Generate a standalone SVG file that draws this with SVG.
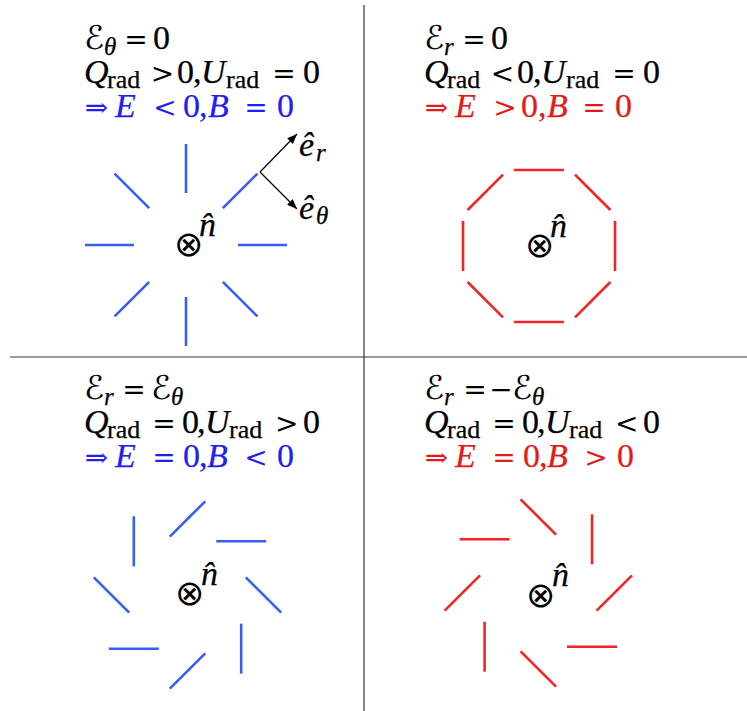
<svg xmlns="http://www.w3.org/2000/svg" width="747" height="711" viewBox="0 0 747 711">
<style>
.t{font-family:"Liberation Serif","DejaVu Serif",serif;font-size:34px;fill:#000;stroke:#000;stroke-width:0.25}
.it{font-style:italic}
.sub{font-size:25px}
.rad{font-size:26px}
.scr{font-family:"DejaVu Serif","DejaVu Sans","Noto Sans",serif;font-style:normal;font-size:33px;stroke-width:0}
.op{font-family:"DejaVu Serif","DejaVu Sans",serif;font-style:normal;font-size:28px;stroke-width:0;text-anchor:middle}
.blue{fill:#1f1ff2;stroke:#1f1ff2}
.red{fill:#e41a1a;stroke:#e41a1a}
.lb{stroke:#3a5ef0;stroke-width:2.6;fill:none}
.lr{stroke:#f42424;stroke-width:2.6;fill:none}
.div{stroke:#333;stroke-width:1.2}
.ot{font-family:"DejaVu Sans",sans-serif;font-size:35px;font-weight:200;fill:#000;text-anchor:middle}
.ax{stroke:#000;stroke-width:1.2;fill:none;marker-end:url(#ah)}
</style>
<defs>
<marker id="ah" viewBox="0 0 10 8" refX="10" refY="4" markerWidth="10" markerHeight="8" markerUnits="userSpaceOnUse" orient="auto"><path d="M0,0 L10,4 L0,8 z" fill="#000"/></marker>
</defs>
<rect width="747" height="711" fill="#fff"/>
<g id="dividers">
<line class="div" x1="364" y1="5" x2="364" y2="711"/>
<line class="div" x1="10" y1="357" x2="747" y2="357"/>
</g>

<g id="panel-tl">
<text class="t"><tspan class="scr" x="84" y="49">ℰ</tspan><tspan class="it sub" x="104" y="55">θ</tspan><tspan class="op" x="136" y="49">=</tspan><tspan x="153" y="49">0</tspan></text>
<text class="t"><tspan class="it" x="84" y="83">Q</tspan><tspan class="rad" x="107" y="88">rad</tspan><tspan class="op" x="162.5" y="83">&gt;</tspan><tspan x="177" y="83">0</tspan><tspan x="193" y="83">,</tspan><tspan class="it" x="201" y="83">U</tspan><tspan class="rad" x="226" y="88">rad</tspan><tspan class="op" x="284" y="83">=</tspan><tspan x="303" y="83">0</tspan></text>
<text class="t blue"><tspan class="op" x="96.5" y="117">⇒</tspan><tspan class="it" x="115" y="117">E</tspan><tspan class="op" x="165" y="117">&lt;</tspan><tspan x="183" y="117">0</tspan><tspan x="199" y="117">,</tspan><tspan class="it" x="208" y="117">B</tspan><tspan class="op" x="256" y="117">=</tspan><tspan x="277" y="117">0</tspan></text>
<g class="lb">
<line x1="186" y1="193" x2="186" y2="144"/>
<line x1="186" y1="297" x2="186" y2="346"/>
<line x1="134" y1="245" x2="85" y2="245"/>
<line x1="238" y1="245" x2="287" y2="245"/>
<line x1="149.2" y1="208.2" x2="114.6" y2="173.6"/>
<line x1="222.8" y1="208.2" x2="257.4" y2="173.6"/>
<line x1="149.2" y1="281.8" x2="114.6" y2="316.4"/>
<line x1="222.8" y1="281.8" x2="257.4" y2="316.4"/>
</g>
<text class="ot" x="188" y="256">⊗</text>
<text class="t it" x="199" y="236">n̂</text>
</g>

<g id="basis-vectors">
<line class="ax" x1="260" y1="172" x2="297" y2="134"/>
<line class="ax" x1="260" y1="172" x2="297" y2="209"/>
<text class="t it"><tspan x="299" y="156">ê</tspan><tspan class="sub" x="316" y="161">r</tspan></text>
<text class="t it"><tspan x="299" y="219">ê</tspan><tspan class="sub" x="316" y="224">θ</tspan></text>
</g>

<g id="panel-tr">
<text class="t"><tspan class="scr" x="424" y="49">ℰ</tspan><tspan class="it sub" x="444" y="55">r</tspan><tspan class="op" x="474" y="49">=</tspan><tspan x="491" y="49">0</tspan></text>
<text class="t"><tspan class="it" x="424" y="83">Q</tspan><tspan class="rad" x="447" y="88">rad</tspan><tspan class="op" x="502.5" y="83">&lt;</tspan><tspan x="517" y="83">0</tspan><tspan x="533" y="83">,</tspan><tspan class="it" x="541" y="83">U</tspan><tspan class="rad" x="566" y="88">rad</tspan><tspan class="op" x="624" y="83">=</tspan><tspan x="643" y="83">0</tspan></text>
<text class="t red"><tspan class="op" x="436.5" y="117">⇒</tspan><tspan class="it" x="455" y="117">E</tspan><tspan class="op" x="505" y="117">&gt;</tspan><tspan x="521" y="117">0</tspan><tspan x="538" y="117">,</tspan><tspan class="it" x="547" y="117">B</tspan><tspan class="op" x="594" y="117">=</tspan><tspan x="615" y="117">0</tspan></text>
<g class="lr">
<line x1="514" y1="170" x2="564" y2="170"/>
<line x1="514" y1="322" x2="564" y2="322"/>
<line x1="463" y1="221" x2="463" y2="271"/>
<line x1="615" y1="221" x2="615" y2="271"/>
<line x1="467.6" y1="210" x2="503" y2="174.6"/>
<line x1="575" y1="174.6" x2="610.4" y2="210"/>
<line x1="467.6" y1="282" x2="503" y2="317.4"/>
<line x1="575" y1="317.4" x2="610.4" y2="282"/>
</g>
<text class="ot" x="539" y="257">⊗</text>
<text class="t it" x="550" y="237">n̂</text>
</g>

<g id="panel-bl">
<text class="t"><tspan class="scr" x="84" y="399">ℰ</tspan><tspan class="it sub" x="104" y="405">r</tspan><tspan class="op" x="134" y="399">=</tspan><tspan class="scr" x="151" y="399">ℰ</tspan><tspan class="it sub" x="171" y="405">θ</tspan></text>
<text class="t"><tspan class="it" x="84" y="433">Q</tspan><tspan class="rad" x="107" y="438">rad</tspan><tspan class="op" x="164" y="433">=</tspan><tspan x="182" y="433">0</tspan><tspan x="197" y="433">,</tspan><tspan class="it" x="205" y="433">U</tspan><tspan class="rad" x="229" y="438">rad</tspan><tspan class="op" x="286.7" y="433">&gt;</tspan><tspan x="303" y="433">0</tspan></text>
<text class="t blue"><tspan class="op" x="96.5" y="467">⇒</tspan><tspan class="it" x="115" y="467">E</tspan><tspan class="op" x="164" y="467">=</tspan><tspan x="183" y="467">0</tspan><tspan x="199" y="467">,</tspan><tspan class="it" x="207" y="467">B</tspan><tspan class="op" x="256" y="467">&lt;</tspan><tspan x="277" y="467">0</tspan></text>
<g class="lb">
<line x1="169.8" y1="536.7" x2="205.2" y2="501.3"/>
<line x1="216.2" y1="541.3" x2="266.2" y2="541.3"/>
<line x1="245.8" y1="577.3" x2="281.2" y2="612.7"/>
<line x1="241.2" y1="623.7" x2="241.2" y2="673.7"/>
<line x1="205.2" y1="653.3" x2="169.8" y2="688.7"/>
<line x1="108.8" y1="648.7" x2="158.8" y2="648.7"/>
<line x1="93.8" y1="577.3" x2="129.2" y2="612.7"/>
<line x1="133.8" y1="516.3" x2="133.8" y2="566.3"/>
</g>
<text class="ot" x="189" y="605">⊗</text>
<text class="t it" x="201" y="585">n̂</text>
</g>

<g id="panel-br">
<text class="t"><tspan class="scr" x="424" y="399">ℰ</tspan><tspan class="it sub" x="444" y="405">r</tspan><tspan class="op" x="475" y="399">=</tspan><tspan class="op" x="501" y="399">−</tspan><tspan class="scr" x="512" y="399">ℰ</tspan><tspan class="it sub" x="532" y="405">θ</tspan></text>
<text class="t"><tspan class="it" x="424" y="433">Q</tspan><tspan class="rad" x="447" y="438">rad</tspan><tspan class="op" x="504" y="433">=</tspan><tspan x="522" y="433">0</tspan><tspan x="537" y="433">,</tspan><tspan class="it" x="545" y="433">U</tspan><tspan class="rad" x="569" y="438">rad</tspan><tspan class="op" x="626.7" y="433">&lt;</tspan><tspan x="643" y="433">0</tspan></text>
<text class="t red"><tspan class="op" x="436.5" y="467">⇒</tspan><tspan class="it" x="455" y="467">E</tspan><tspan class="op" x="504" y="467">=</tspan><tspan x="523" y="467">0</tspan><tspan x="539" y="467">,</tspan><tspan class="it" x="547" y="467">B</tspan><tspan class="op" x="596" y="467">&gt;</tspan><tspan x="617" y="467">0</tspan></text>
<g class="lr">
<line x1="520.6" y1="499.3" x2="556" y2="534.7"/>
<line x1="592" y1="514.3" x2="592" y2="564.3"/>
<line x1="596.6" y1="610.7" x2="632" y2="575.3"/>
<line x1="567" y1="646.7" x2="617" y2="646.7"/>
<line x1="520.6" y1="651.3" x2="556" y2="686.7"/>
<line x1="484.6" y1="621.7" x2="484.6" y2="671.7"/>
<line x1="444.6" y1="610.7" x2="480" y2="575.3"/>
<line x1="459.6" y1="539.3" x2="509.6" y2="539.3"/>
</g>
<text class="ot" x="540" y="607">⊗</text>
<text class="t it" x="552" y="586">n̂</text>
</g>
</svg>
